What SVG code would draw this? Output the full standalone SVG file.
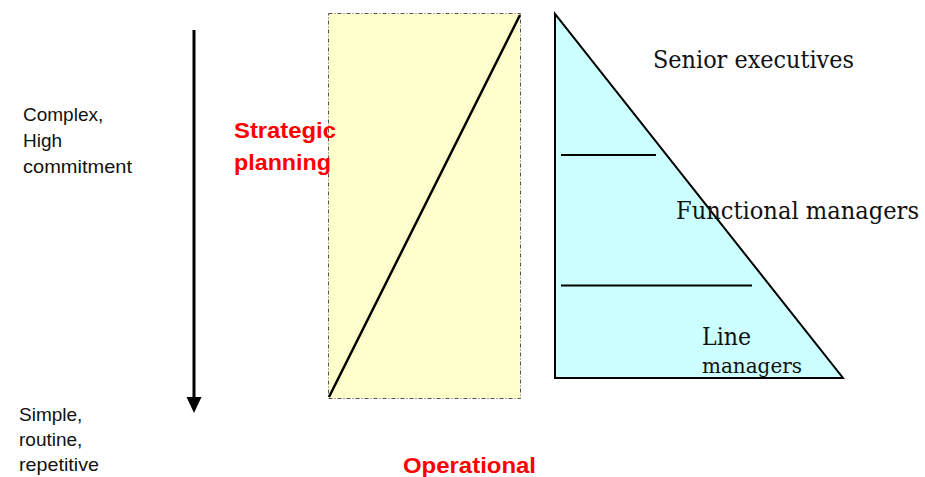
<svg xmlns="http://www.w3.org/2000/svg" width="925" height="477" viewBox="0 0 925 477">
  <style>
    .side { font-family: "Liberation Sans", Arial, sans-serif; font-size: 19px; fill: #111; }
    .red { font-family: "Liberation Sans", Arial, sans-serif; font-size: 22px; font-weight: bold; fill: #ff0000; }
    .tier { font-family: "DejaVu Serif", "Liberation Serif", serif; fill: #111; }
    .ink { stroke: #000; fill: none; }
  </style>

  <rect width="925" height="477" fill="#fff"/>

  <!-- complexity scale -->
  <g id="scale">
    <line x1="194" y1="30" x2="194" y2="400" stroke="#000" stroke-width="3"/>
    <polygon points="186.5,397 201.5,397 194,413" fill="#000"/>
    <text class="side" x="23" y="121">Complex,</text>
    <text class="side" x="23" y="147">High</text>
    <text class="side" x="23" y="173" textLength="109" lengthAdjust="spacingAndGlyphs">commitment</text>
    <text class="side" x="19" y="421">Simple,</text>
    <text class="side" x="19" y="446">routine,</text>
    <text class="side" x="19" y="471" textLength="80" lengthAdjust="spacingAndGlyphs">repetitive</text>
  </g>

  <!-- planning band -->
  <g id="planning">
    <rect x="328.5" y="13.5" width="192" height="385" fill="#ffffcc" stroke="#555" stroke-width="1" stroke-dasharray="4 2 1 2"/>
    <line class="ink" x1="329" y1="397" x2="520" y2="15" stroke-width="2.5"/>
    <text class="red" x="234" y="138" textLength="102" lengthAdjust="spacingAndGlyphs">Strategic</text>
    <text class="red" x="234" y="170" textLength="97" lengthAdjust="spacingAndGlyphs">planning</text>
    <text class="red" x="403" y="473" textLength="133" lengthAdjust="spacingAndGlyphs">Operational</text>
  </g>

  <!-- management hierarchy -->
  <g id="hierarchy">
    <polygon points="555,14 555,378 843,378" fill="#ccffff" stroke="#000" stroke-width="2"/>
    <line class="ink" x1="561" y1="155" x2="656" y2="155" stroke-width="2"/>
    <line class="ink" x1="561" y1="285.5" x2="752" y2="285.5" stroke-width="2"/>
    <text class="tier" x="653" y="68" font-size="24" textLength="201" lengthAdjust="spacingAndGlyphs">Senior executives</text>
    <text class="tier" x="676" y="219" font-size="25" textLength="243" lengthAdjust="spacingAndGlyphs">Functional managers</text>
    <text class="tier" x="702" y="345" font-size="24" textLength="49" lengthAdjust="spacingAndGlyphs">Line</text>
    <text class="tier" x="702" y="373" font-size="21" textLength="100" lengthAdjust="spacingAndGlyphs">managers</text>
  </g>
</svg>
